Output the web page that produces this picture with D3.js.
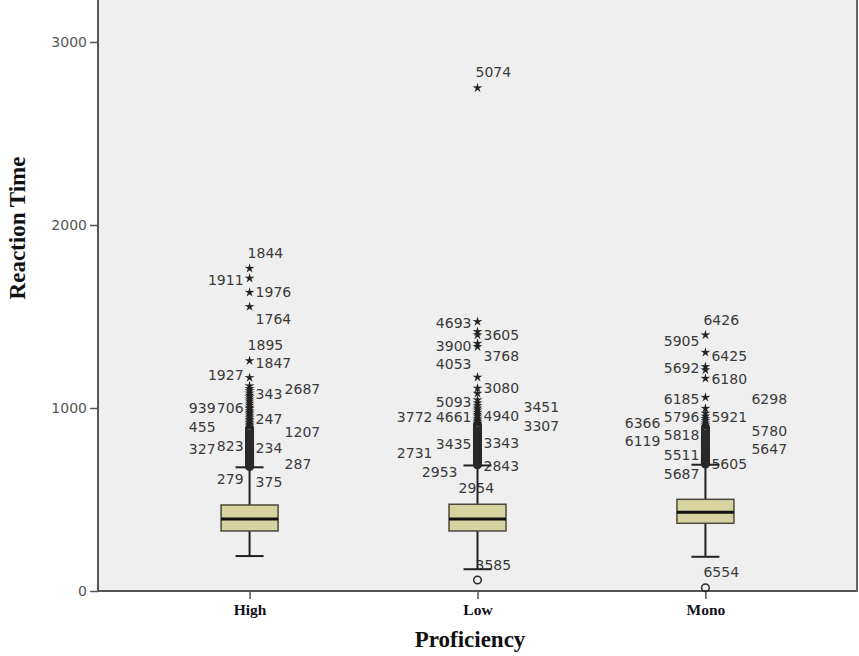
<!DOCTYPE html>
<html>
<head>
<meta charset="utf-8">
<script src="https://cdn.jsdelivr.net/npm/d3@7"></script>
<style>
  html, body { margin: 0; padding: 0; background: #ffffff; }
  svg { display: block; }
</style>
</head>
<body>
<svg id="chart" width="859" height="656"></svg>
<script>
// Reaction time by proficiency group: box plots with case-numbered outliers.
const categories = ["High", "Low", "Mono"];
const q1 = [328, 328, 370];
const median = [393, 393, 430];
const q3 = [470, 474, 501];
const whiskerLow = [191, 119, 187];
const whiskerHigh = [676, 686, 690];
const yTicks = [0, 1000, 2000, 3000];

// Mild outliers (drawn as circles) and extreme outliers (drawn as stars)
const circlesHigh = [680, 684, 689, 693, 697, 702, 706, 711, 715, 719, 724, 729, 733, 738, 742, 748, 753, 757, 762, 768, 773, 778, 784, 789, 795, 801, 806, 812, 818, 825, 831, 838, 844, 851, 858, 866, 873, 881, 889];
const starsHigh = [1763, 1709, 1632, 1554, 1258, 1166, 1121, 1106, 1094, 1081, 1069, 1060, 1048, 1037, 1026, 1015, 1004, 996, 985, 976, 966, 955, 946, 937, 928, 919, 910, 902];
const circlesLow = [60, 690, 694, 697, 701, 706, 710, 715, 719, 724, 728, 733, 738, 743, 747, 752, 758, 763, 768, 774, 779, 785, 790, 796, 803, 809, 815, 822, 829, 836, 843, 850, 858, 866, 874, 882, 891, 900, 908];
const starsLow = [2749, 1472, 1417, 1399, 1353, 1335, 1168, 1108, 1080, 1044, 1028, 1012, 999, 988, 976, 965, 955, 944, 934, 925, 916];
const circlesMono = [18, 694, 699, 703, 707, 712, 716, 721, 725, 730, 735, 739, 744, 749, 754, 760, 765, 770, 776, 782, 787, 793, 799, 806, 812, 819, 826, 833, 841, 849, 857, 866, 875, 884, 892];
const starsMono = [1399, 1304, 1226, 1208, 1162, 1058, 998, 971, 955, 942, 930, 918, 908, 899];

// Case labels: [case id, vertical anchor in ms, side]
const labelsHigh = [
  ["1844", 1849, "T"], ["1911", 1699, "L"], ["1976", 1632, "R"], ["1764", 1485, "R"],
  ["1895", 1344, "T"], ["1847", 1248, "R"], ["1927", 1180, "L"], ["343", 1077, "R"],
  ["2687", 1102, "RR"], ["939", 998, "LL"], ["706", 998, "L"], ["247", 940, "R"],
  ["455", 895, "LL"], ["1207", 870, "RR"], ["327", 774, "LL"], ["823", 792, "L"],
  ["234", 780, "R"], ["287", 694, "RR"], ["279", 610, "L"], ["375", 594, "R"]
];
const labelsLow = [
  ["5074", 2838, "T"], ["4693", 1466, "L"], ["3605", 1399, "R"], ["3900", 1340, "L"],
  ["3768", 1284, "R"], ["4053", 1240, "L"], ["3080", 1108, "R"], ["5093", 1031, "L"],
  ["3451", 1004, "RR"], ["3772", 952, "LL"], ["4661", 950, "L"], ["4940", 956, "R"],
  ["3307", 902, "RR"], ["3343", 810, "R"], ["3435", 802, "L"], ["2731", 752, "LL"],
  ["2953", 652, "M"], ["2843", 683, "R"], ["2954", 561, "B"], ["3585", 142, "T"]
];
const labelsMono = [
  ["6426", 1481, "T"], ["5905", 1366, "L"], ["6425", 1284, "R"], ["5692", 1217, "L"],
  ["6180", 1157, "R"], ["6185", 1048, "L"], ["6298", 1048, "RR"], ["5796", 952, "L"],
  ["5921", 952, "R"], ["6366", 916, "LL"], ["5780", 874, "RR"], ["5818", 852, "L"],
  ["6119", 820, "LL"], ["5647", 774, "RR"], ["5511", 743, "L"], ["5605", 692, "R"],
  ["5687", 639, "L"], ["6554", 105, "T"]
];

const circles = [circlesHigh, circlesLow, circlesMono];
const stars = [starsHigh, starsLow, starsMono];
const labels = [labelsHigh, labelsLow, labelsMono];

const svg = d3.select("#chart");
const plotLeft = 98, plotRight = 857, plotTop = 0, plotBottom = 591;

const x = d3.scalePoint().domain(categories).range([plotLeft, plotRight]).padding(0.665);
const y = d3.scaleLinear().domain([0, 3229.5]).range([plotBottom, plotTop]);

// plot background
svg.append("rect")
  .attr("x", plotLeft).attr("y", plotTop)
  .attr("width", plotRight - plotLeft).attr("height", plotBottom - plotTop)
  .attr("fill", "#efefef");

// y axis
const yAxis = svg.append("g")
  .attr("transform", `translate(${plotLeft},0)`)
  .call(d3.axisLeft(y).tickValues(yTicks).tickSize(8).tickPadding(3).tickFormat(d3.format("d")));
yAxis.select(".domain").remove();
yAxis.selectAll(".tick line").attr("stroke", "#555").attr("stroke-width", 1.5);
yAxis.selectAll(".tick text")
  .attr("fill", "#555").attr("font-family", "DejaVu Sans").attr("font-size", 14);

// x axis
const xAxis = svg.append("g")
  .attr("transform", `translate(0,${plotBottom})`)
  .call(d3.axisBottom(x).tickSize(8).tickPadding(5));
xAxis.select(".domain").remove();
xAxis.selectAll(".tick line").attr("stroke", "#555").attr("stroke-width", 1.5);
xAxis.selectAll(".tick text")
  .attr("fill", "#111122").attr("font-family", "Liberation Serif")
  .attr("font-weight", "bold").attr("font-size", 15.5).attr("dy", "0.72em");

// frame lines
svg.append("line").attr("x1", plotLeft).attr("x2", plotLeft).attr("y1", plotTop).attr("y2", plotBottom + 1)
  .attr("stroke", "#555").attr("stroke-width", 2);
svg.append("line").attr("x1", plotLeft).attr("x2", plotRight).attr("y1", plotBottom).attr("y2", plotBottom)
  .attr("stroke", "#555").attr("stroke-width", 2);
svg.append("line").attr("x1", plotRight).attr("x2", plotRight).attr("y1", plotTop).attr("y2", plotBottom + 1)
  .attr("stroke", "#666").attr("stroke-width", 2);

// axis titles
svg.append("text")
  .attr("transform", "translate(25,228) rotate(-90)")
  .attr("text-anchor", "middle")
  .attr("font-family", "Liberation Serif").attr("font-weight", "bold").attr("font-size", 23)
  .attr("fill", "#111")
  .text("Reaction Time");
svg.append("text")
  .attr("x", 470).attr("y", 647)
  .attr("text-anchor", "middle")
  .attr("font-family", "Liberation Serif").attr("font-weight", "bold").attr("font-size", 23)
  .attr("fill", "#111")
  .text("Proficiency");

// horizontal offsets of case labels from the box centre
const farOffset = [34, 45, 45];
function labelPlacement(side, i) {
  switch (side) {
    case "T": return { dx: -2, anchor: "start" };
    case "L": return { dx: -6, anchor: "end" };
    case "R": return { dx: 6, anchor: "start" };
    case "LL": return { dx: -farOffset[i], anchor: "end" };
    case "RR": return { dx: farOffset[i] + 1, anchor: "start" };
    case "M": return { dx: -20, anchor: "end" };
    case "B": return { dx: -19, anchor: "start" };
  }
}

const boxW = 57, capW = 28;
const starPath = (() => {
  const pts = [];
  const ro = 5.2, ri = 1.8;
  for (let k = 0; k < 10; k++) {
    const r = k % 2 === 0 ? ro : ri;
    const a = -Math.PI / 2 + k * Math.PI / 5;
    pts.push([r * Math.cos(a), r * Math.sin(a)]);
  }
  return "M" + pts.map(p => p[0].toFixed(2) + "," + p[1].toFixed(2)).join("L") + "Z";
})();

categories.forEach((cat, i) => {
  const cx = x(cat);
  const g = svg.append("g");

  // case labels sit underneath the plot marks
  g.selectAll("text.case")
    .data(labels[i])
    .join("text")
    .attr("class", "case")
    .attr("x", d => cx + labelPlacement(d[2], i).dx)
    .attr("y", d => y(d[1]))
    .attr("dy", "0.36em")
    .attr("text-anchor", d => labelPlacement(d[2], i).anchor)
    .attr("font-family", "DejaVu Sans").attr("font-size", 14)
    .attr("fill", "#3a3a3a")
    .text(d => d[0]);

  // whiskers
  g.append("line").attr("x1", cx).attr("x2", cx)
    .attr("y1", y(whiskerLow[i])).attr("y2", y(whiskerHigh[i]))
    .attr("stroke", "#222").attr("stroke-width", 2);
  [whiskerLow[i], whiskerHigh[i]].forEach(v => {
    g.append("line").attr("x1", cx - capW / 2).attr("x2", cx + capW / 2)
      .attr("y1", y(v)).attr("y2", y(v))
      .attr("stroke", "#222").attr("stroke-width", 2);
  });

  // box
  g.append("rect")
    .attr("x", cx - boxW / 2).attr("width", boxW)
    .attr("y", y(q3[i])).attr("height", y(q1[i]) - y(q3[i]))
    .attr("fill", "#d6d3a0").attr("stroke", "#4a4a3c").attr("stroke-width", 1.5);
  g.append("line")
    .attr("x1", cx - boxW / 2).attr("x2", cx + boxW / 2)
    .attr("y1", y(median[i])).attr("y2", y(median[i]))
    .attr("stroke", "#111").attr("stroke-width", 3);

  // outliers
  g.selectAll("circle.out")
    .data(circles[i])
    .join("circle")
    .attr("class", "out")
    .attr("cx", cx).attr("cy", d => y(d)).attr("r", 3.8)
    .attr("fill", "none").attr("stroke", "#2a2a2a").attr("stroke-width", 1.5);
  g.selectAll("path.ext")
    .data(stars[i])
    .join("path")
    .attr("class", "ext")
    .attr("transform", d => `translate(${cx},${y(d)})`)
    .attr("d", starPath)
    .attr("fill", "#222");
});
</script>
</body>
</html>
